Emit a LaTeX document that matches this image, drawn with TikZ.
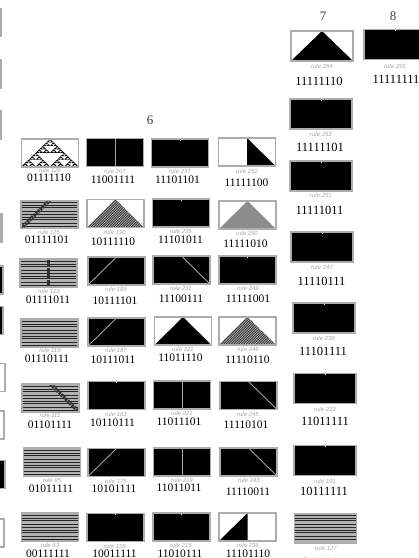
\documentclass[tikz,border=0pt]{standalone}
\usepackage{fontspec}
\setmainfont{Liberation Serif}
\setsansfont{Liberation Sans}
\usetikzlibrary{calc}
\def\pb{path picture bounding box}
\begin{document}
\begin{tikzpicture}[
    x=1pt, y=-1pt,
    tile/.style={draw=gray!65, line width=1.3pt, rectangle, minimum width=57pt, minimum height=28pt, inner sep=0pt},
    bigtile/.style={tile, minimum width=62pt, minimum height=30pt},
    blacktile/.style={fill=black, path picture={\fill[white] ([xshift=-0.4pt]\pb.north) rectangle ([xshift=0.4pt,yshift=-1.5pt]\pb.north);}},
    splittile/.style={fill=black, path picture={\draw[gray!70, line width=0.9pt] (\pb.north) -- (\pb.south);}},
    riseline/.style={fill=black, path picture={\draw[gray!75, line width=0.9pt] (\pb.south west) -- (\pb.north);}},
    fallline/.style={fill=black, path picture={\draw[gray!75, line width=0.9pt] (\pb.north) -- (\pb.south east);}},
    peak/.style={fill=white, path picture={\fill[#1] (\pb.south west) -- (\pb.north) -- (\pb.south east) -- cycle;}},
    peak/.default=black,
    hatchpeak/.style={fill=white, path picture={\fill[black!80] (\pb.south west) -- (\pb.north) -- (\pb.south east) -- cycle;
        \clip (\pb.south west) -- (\pb.north) -- (\pb.south east) -- cycle;
        \foreach \s in {-30,-27.5,...,60} {\draw[gray!45, line width=0.6pt] ($(\pb.south west)+(\s pt,0)$) -- ++(30pt,30pt);}}},
    sierpinski/.style={fill=white, path picture={
        \coordinate (apex) at (\pb.north);
        \foreach \ax/\ay in {0/0,-1/1,1/1} \foreach \bx/\by in {0/0,-1/1,1/1} \foreach \cx/\cy in {0/0,-1/1,1/1} \foreach \dx/\dy in {0/0,-1/1,1/1}
            \fill[black] ($(apex)+({(8*\ax+4*\bx+2*\cx+\dx)*1.78pt},{-(8*\ay+4*\by+2*\cy+\dy)*1.72pt})$) -- ++(-1.78pt,-1.72pt) -- ++(3.56pt,0pt) -- cycle;}},
    halfright/.style={fill=white, path picture={\fill[black] (\pb.north) -- (\pb.south east) -- (\pb.south) -- cycle;}},
    halfleft/.style={fill=white, path picture={\fill[black] (\pb.north) -- (\pb.south west) -- (\pb.south) -- cycle;}},
    stripetile/.style={fill=gray!60, path picture={
        \foreach \s in {2,5,7,11,14,17,19,23,26} {\draw[black!85, line width=0.8pt] ($(\pb.north west)+(0,-\s pt)$) -- ++(70pt,0);}
        #1}},
    stripetile/.default={},
    bandrise/.style={stripetile={\draw[black!80, line width=3.5pt, dash pattern=on 2pt off 1pt] (\pb.south west) -- (\pb.north);}},
    bandfall/.style={stripetile={\draw[black!80, line width=3.5pt, dash pattern=on 2pt off 1pt] (\pb.north) -- (\pb.south east);}},
    bandmid/.style={stripetile={\draw[black!80, line width=3.5pt, dash pattern=on 2pt off 1pt] (\pb.north) -- (\pb.south);}},
    rulelabel/.style={font=\sffamily\itshape\fontsize{6}{6}\selectfont, text=gray!70, inner sep=0pt},
    bits/.style={font=\fontsize{11.5}{12}\selectfont, inner sep=0pt},
    bigbits/.style={font=\fontsize{12.5}{13}\selectfont, inner sep=0pt},
    weight/.style={font=\fontsize{13}{14}\selectfont, text=black!75, inner sep=0pt}
]
\useasboundingbox (0,0) rectangle (419,558);

% Headings
\node[weight] (w6) at (150,120) {6};
\node[weight] (w7) at (323,16) {7};
\node[weight] (w8) at (393,16) {8};

% Cut off at the left edge
\node[tile, fill=white] (e1) at (-27.5,22.5) {};
\node[tile, fill=white] (e2) at (-27.5,74) {};
\node[tile, fill=white] (e3) at (-27.5,125) {};
\node[tile, fill=gray!60] (e4) at (-26.5,228) {};
\node[tile, blacktile] (e5) at (-25.5,280) {};
\node[tile, blacktile] (e6) at (-25.5,320.5) {};
\node[tile, fill=white] (e7) at (-23.5,377.5) {};
\node[tile, fill=white] (e8) at (-24.5,425) {};
\node[tile, blacktile] (e9) at (-23.5,474.5) {};
\node[tile, fill=white] (e10) at (-24.5,533) {};

% First column
\node[tile, sierpinski] (r126) at (50,153) {};
\node[rulelabel] (r126n) at (50,170.5) {rule 126};
\node[bits] (r126b) at (49,178) {01111110};
\node[tile, bandrise] (r125) at (49.5,214.5) {};
\node[rulelabel] (r125n) at (49,232) {rule 125};
\node[bits] (r125b) at (47,240) {01111101};
\node[tile, bandmid] (r123) at (48.5,273) {};
\node[rulelabel] (r123n) at (49,291) {rule 123};
\node[bits] (r123b) at (48,300) {01111011};
\node[tile, stripetile] (r119) at (49.5,333) {};
\node[rulelabel] (r119n) at (50,350.5) {rule 119};
\node[bits] (r119b) at (47,358.5) {01110111};
\node[tile, bandfall] (r111) at (50.5,398) {};
\node[rulelabel] (r111n) at (50,415.5) {rule 111};
\node[bits] (r111b) at (50,425) {01101111};
\node[tile, stripetile] (r95) at (52,462) {};
\node[rulelabel] (r95n) at (52,480) {rule 95};
\node[bits] (r95b) at (51,489) {01011111};
\node[tile, stripetile] (r63) at (50,527) {};
\node[rulelabel] (r63n) at (50,545) {rule 63};
\node[bits] (r63b) at (48,554) {00111111};

% Second column
\node[tile, splittile] (r207) at (115,152.5) {};
\node[rulelabel] (r207n) at (115,171) {rule 207};
\node[bits] (r207b) at (113,180) {11001111};
\node[tile, hatchpeak] (r190) at (115.5,213.5) {};
\node[rulelabel] (r190n) at (115,232) {rule 190};
\node[bits] (r190b) at (113,242) {10111110};
\node[tile, riseline] (r189) at (116.5,271) {};
\node[rulelabel] (r189n) at (116,289) {rule 189};
\node[bits] (r189b) at (115,301) {10111101};
\node[tile, riseline] (r187) at (116.5,332) {};
\node[rulelabel] (r187n) at (116,350) {rule 187};
\node[bits] (r187b) at (113,360) {10111011};
\node[tile, blacktile] (r183) at (116.5,395.5) {};
\node[rulelabel] (r183n) at (116,414) {rule 183};
\node[bits] (r183b) at (112.5,423) {10110111};
\node[tile, riseline] (r175) at (116.5,462.5) {};
\node[rulelabel] (r175n) at (116,481) {rule 175};
\node[bits] (r175b) at (114,489) {10101111};
\node[tile, blacktile] (r159) at (115.5,527.5) {};
\node[rulelabel] (r159n) at (115,546) {rule 159};
\node[bits] (r159b) at (114.5,554) {10011111};

% Third column
\node[tile, blacktile] (r237) at (180,153) {};
\node[rulelabel] (r237n) at (180,171) {rule 237};
\node[bits] (r237b) at (177.5,180) {11101101};
\node[tile, blacktile] (r235) at (181,213) {};
\node[rulelabel] (r235n) at (181,231) {rule 235};
\node[bits] (r235b) at (180.5,240) {11101011};
\node[tile, fallline] (r231) at (181.5,270) {};
\node[rulelabel] (r231n) at (181,288) {rule 231};
\node[bits] (r231b) at (181,299) {11100111};
\node[tile, peak] (r222) at (183,331) {};
\node[rulelabel] (r222n) at (183,349) {rule 222};
\node[bits] (r222b) at (180.5,358) {11011110};
\node[tile, splittile] (r221) at (182,395) {};
\node[rulelabel] (r221n) at (182,413.5) {rule 221};
\node[bits] (r221b) at (179,422) {11011101};
\node[tile, splittile] (r219) at (182,462) {};
\node[rulelabel] (r219n) at (182,480) {rule 219};
\node[bits] (r219b) at (179,488) {11011011};
\node[tile, blacktile] (r215) at (181.5,527) {};
\node[rulelabel] (r215n) at (181,545) {rule 215};
\node[bits] (r215b) at (180,554) {11010111};

% Fourth column
\node[tile, halfright] (r252) at (247,152) {};
\node[rulelabel] (r252n) at (247,171) {rule 252};
\node[bits] (r252b) at (246.5,183) {11111100};
\node[tile, peak=black!45] (r250) at (247.5,215) {};
\node[rulelabel] (r250n) at (247,233) {rule 250};
\node[bits] (r250b) at (245.5,244) {11111010};
\node[tile, blacktile] (r249) at (247.5,270) {};
\node[rulelabel] (r249n) at (248,288) {rule 249};
\node[bits] (r249b) at (248,299) {11111001};
\node[tile, hatchpeak] (r246) at (247.5,331) {};
\node[rulelabel] (r246n) at (248,349) {rule 246};
\node[bits] (r246b) at (247.5,360) {11110110};
\node[tile, fallline] (r245) at (248.5,395.5) {};
\node[rulelabel] (r245n) at (248,414) {rule 245};
\node[bits] (r245b) at (246,425) {11110101};
\node[tile, fallline] (r243) at (248.5,462) {};
\node[rulelabel] (r243n) at (249,480) {rule 243};
\node[bits] (r243b) at (248,492) {11110011};
\node[tile, halfleft] (r236) at (247.5,527) {};
\node[rulelabel] (r236n) at (248,545) {rule 236};
\node[bits] (r236b) at (248,554) {11101110};

% Fifth column
\node[bigtile, peak] (r254) at (322,46) {};
\node[rulelabel] (r254n) at (322,66) {rule 254};
\node[bigbits] (r254b) at (319,81) {11111110};
\node[bigtile, blacktile] (r253) at (321,114) {};
\node[rulelabel] (r253n) at (321,134) {rule 253};
\node[bigbits] (r253b) at (320,147) {11111101};
\node[bigtile, blacktile] (r251) at (321,176) {};
\node[rulelabel] (r251n) at (321,195.5) {rule 251};
\node[bigbits] (r251b) at (319.5,210) {11111011};
\node[bigtile, blacktile] (r247) at (322,247) {};
\node[rulelabel] (r247n) at (322,267) {rule 247};
\node[bigbits] (r247b) at (321.5,281) {11110111};
\node[bigtile, blacktile] (r239) at (324,318) {};
\node[rulelabel] (r239n) at (324,338) {rule 239};
\node[bigbits] (r239b) at (323,351) {11101111};
\node[bigtile, blacktile] (r223) at (325,388.5) {};
\node[rulelabel] (r223n) at (325,409) {rule 223};
\node[bigbits] (r223b) at (325,421) {11011111};
\node[bigtile, blacktile] (r191) at (325,460.5) {};
\node[rulelabel] (r191n) at (325,481) {rule 191};
\node[bigbits] (r191b) at (324,491) {10111111};
\node[bigtile, stripetile] (r127) at (325.5,528.5) {};
\node[rulelabel] (r127n) at (326,548) {rule 127};
\node[bigbits] (r127b) at (326,562) {01111111};

% Sixth column
\node[bigtile, blacktile] (r255) at (395,44.5) {};
\node[rulelabel] (r255n) at (395,66) {rule 255};
\node[bigbits] (r255b) at (396,79) {11111111};

\end{tikzpicture}
\end{document}
